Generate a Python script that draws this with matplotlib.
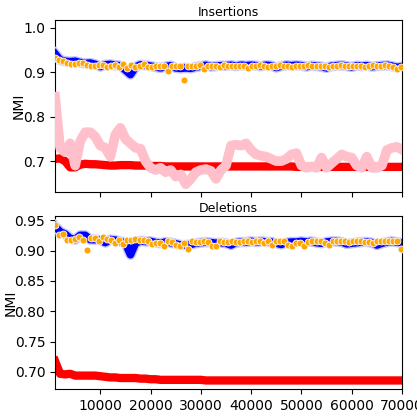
import numpy as np
import matplotlib
matplotlib.use('Agg')
import matplotlib.pyplot as plt
import matplotlib.patheffects as pe

# datos
x_line = np.arange(1000, 70001, 1000)
x_dots = np.arange(1000, 70001, 800)

ins_blue = [0.942, 0.928, 0.925, 0.924, 0.925, 0.922, 0.920, 0.921, 0.918, 0.913,
            0.917, 0.918, 0.916, 0.915, 0.905, 0.895, 0.912, 0.917, 0.916, 0.914,
            0.912, 0.910, 0.913, 0.915, 0.910, 0.909, 0.910, 0.909, 0.912, 0.914,
            0.916, 0.913, 0.914, 0.915, 0.915, 0.916, 0.914, 0.916, 0.915, 0.916,
            0.915, 0.914, 0.916, 0.915, 0.911, 0.914, 0.916, 0.915, 0.916, 0.915,
            0.913, 0.915, 0.914, 0.913, 0.910, 0.914, 0.915, 0.916, 0.914, 0.912,
            0.915, 0.914, 0.915, 0.913, 0.914, 0.915, 0.916, 0.914, 0.911, 0.913]
ins_red = [0.705, 0.706, 0.700, 0.686, 0.686, 0.692, 0.694, 0.693, 0.693, 0.692,
           0.691, 0.690, 0.690, 0.691, 0.691, 0.691, 0.690, 0.690, 0.690, 0.689,
           0.689, 0.689, 0.688, 0.688, 0.688, 0.688, 0.688, 0.688, 0.688, 0.688,
           0.688, 0.688, 0.688, 0.688, 0.688, 0.688, 0.688, 0.688, 0.688, 0.688,
           0.688, 0.688, 0.688, 0.688, 0.688, 0.688, 0.688, 0.688, 0.687, 0.687,
           0.687, 0.687, 0.687, 0.687, 0.687, 0.687, 0.687, 0.687, 0.687, 0.687,
           0.687, 0.687, 0.687, 0.687, 0.687, 0.687, 0.687, 0.687, 0.687, 0.687]
ins_pink = [0.845, 0.730, 0.720, 0.740, 0.690, 0.745, 0.765, 0.765, 0.755, 0.735,
            0.730, 0.710, 0.760, 0.775, 0.750, 0.740, 0.730, 0.728, 0.700, 0.685,
            0.680, 0.685, 0.675, 0.680, 0.665, 0.670, 0.648, 0.660, 0.675, 0.680,
            0.682, 0.678, 0.660, 0.680, 0.690, 0.735, 0.737, 0.735, 0.740, 0.725,
            0.715, 0.712, 0.710, 0.705, 0.700, 0.700, 0.705, 0.715, 0.718, 0.690,
            0.685, 0.688, 0.685, 0.708, 0.685, 0.695, 0.705, 0.715, 0.710, 0.708,
            0.690, 0.685, 0.710, 0.685, 0.685, 0.690, 0.725, 0.730, 0.732, 0.726]
ins_orange = [0.932, 0.927, 0.925, 0.920, 0.918, 0.918, 0.922, 0.921, 0.916, 0.915,
              0.914, 0.917, 0.916, 0.912, 0.915, 0.917, 0.912, 0.918, 0.910, 0.916,
              0.912, 0.915, 0.918, 0.913, 0.912, 0.914, 0.915, 0.915, 0.903, 0.915,
              0.915, 0.915, 0.882, 0.915, 0.915, 0.914, 0.916, 0.908, 0.915, 0.915,
              0.915, 0.913, 0.916, 0.915, 0.915, 0.914, 0.915, 0.915, 0.910, 0.915,
              0.915, 0.916, 0.915, 0.913, 0.915, 0.915, 0.916, 0.915, 0.915, 0.912,
              0.915, 0.915, 0.915, 0.916, 0.915, 0.914, 0.915, 0.915, 0.912, 0.915,
              0.915, 0.916, 0.915, 0.914, 0.915, 0.915, 0.915, 0.913, 0.915, 0.916,
              0.915, 0.914, 0.916, 0.915, 0.912, 0.908, 0.912]

del_blue = [0.940, 0.931, 0.927, 0.920, 0.918, 0.925, 0.925, 0.918, 0.918, 0.917,
            0.913, 0.918, 0.917, 0.915, 0.912, 0.893, 0.912, 0.916, 0.915, 0.915,
            0.913, 0.912, 0.914, 0.913, 0.911, 0.909, 0.909, 0.910, 0.912, 0.913,
            0.914, 0.913, 0.912, 0.913, 0.912, 0.909, 0.913, 0.914, 0.914, 0.915,
            0.914, 0.915, 0.914, 0.914, 0.912, 0.910, 0.913, 0.914, 0.914, 0.915,
            0.914, 0.915, 0.913, 0.912, 0.914, 0.915, 0.915, 0.914, 0.911, 0.912,
            0.913, 0.914, 0.914, 0.913, 0.909, 0.912, 0.914, 0.915, 0.914, 0.912]
del_red = [0.718, 0.697, 0.696, 0.697, 0.694, 0.694, 0.694, 0.694, 0.694, 0.693,
           0.692, 0.691, 0.691, 0.690, 0.690, 0.690, 0.690, 0.689, 0.689, 0.688,
           0.688, 0.687, 0.687, 0.687, 0.687, 0.687, 0.687, 0.687, 0.687, 0.687,
           0.686, 0.686, 0.686, 0.686, 0.686, 0.686, 0.686, 0.686, 0.686, 0.686,
           0.686, 0.686, 0.686, 0.686, 0.686, 0.686, 0.686, 0.686, 0.686, 0.686,
           0.686, 0.686, 0.686, 0.686, 0.686, 0.686, 0.686, 0.686, 0.686, 0.686,
           0.686, 0.686, 0.686, 0.686, 0.686, 0.686, 0.686, 0.686, 0.686, 0.686]
del_orange = [0.942, 0.925, 0.928, 0.918, 0.918, 0.919, 0.922, 0.917, 0.901, 0.921,
              0.921, 0.916, 0.922, 0.919, 0.918, 0.913, 0.917, 0.911, 0.918, 0.917,
              0.919, 0.918, 0.917, 0.916, 0.910, 0.913, 0.912, 0.907, 0.916, 0.914,
              0.909, 0.907, 0.912, 0.903, 0.916, 0.914, 0.914, 0.915, 0.914, 0.908,
              0.907, 0.916, 0.914, 0.914, 0.915, 0.914, 0.914, 0.915, 0.915, 0.914,
              0.915, 0.915, 0.912, 0.916, 0.909, 0.915, 0.915, 0.916, 0.909, 0.908,
              0.912, 0.913, 0.908, 0.914, 0.915, 0.916, 0.916, 0.913, 0.909, 0.916,
              0.915, 0.916, 0.915, 0.914, 0.915, 0.915, 0.916, 0.914, 0.914, 0.912,
              0.915, 0.915, 0.916, 0.915, 0.915, 0.916, 0.903]

fig = plt.figure(figsize=(4.17, 4.16), dpi=100)
ax1 = fig.add_axes([0.132, 0.538, 0.832, 0.414])
ax2 = fig.add_axes([0.132, 0.065, 0.832, 0.416], sharex=ax1)

blue_fx = [pe.Stroke(linewidth=7.5, foreground='#c6c6ff'), pe.Normal()]


def panel(ax, blue, red, orange, pink=None, red_lw=6):
    ax.plot(x_line, red, color='red', linewidth=red_lw, zorder=2)
    if pink is not None:
        ax.plot(x_line, pink, color='pink', linewidth=7, zorder=3)
    ax.plot(x_line, blue, color='blue', linewidth=5.5, zorder=4,
            path_effects=blue_fx)
    ax.plot(x_dots, orange, 'o', color='orange', markersize=5,
            markeredgecolor='white', markeredgewidth=0.6, zorder=5)


panel(ax1, ins_blue, ins_red, ins_orange, pink=ins_pink, red_lw=6)
ax1.set_title('Insertions', fontsize=9, pad=3)
ax1.set_ylim(0.630, 1.018)
ax1.set_yticks([0.7, 0.8, 0.9, 1.0])
ax1.tick_params(labelbottom=False)
ax1.set_ylabel('NMI')
ax1.yaxis.set_label_coords(-0.084, 0.5)

panel(ax2, del_blue, del_red, del_orange, red_lw=6)
ax2.set_title('Deletions', fontsize=9, pad=3)
ax2.set_ylim(0.672, 0.957)
ax2.set_yticks([0.70, 0.75, 0.80, 0.85, 0.90, 0.95])
ax2.set_xlim(1000, 70000)
ax2.set_xticks([10000, 20000, 30000, 40000, 50000, 60000, 70000])
ax2.set_xlabel('# Points')
ax2.set_ylabel('NMI')
ax2.yaxis.set_label_coords(-0.107, 0.5)

plt.savefig('out.png', dpi=100)
